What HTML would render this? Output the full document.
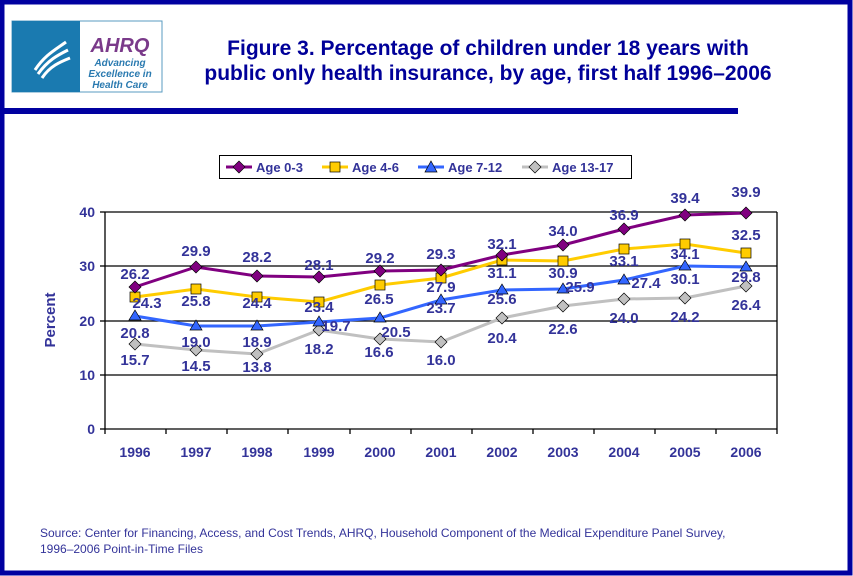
<!DOCTYPE html>
<html><head><style>body{margin:0}svg{display:block}text{font-family:"Liberation Sans",Arial,sans-serif}</style></head><body>
<svg width="853" height="576" xmlns="http://www.w3.org/2000/svg">
<rect width="853" height="576" fill="#fff"/>
<rect x="2" y="2" width="848" height="571" fill="none" stroke="#0000a0" stroke-width="5"/>
<rect x="0" y="108" width="738" height="6" fill="#0000a0"/>
<rect x="12" y="21" width="150" height="71" fill="#fff" stroke="#5a9bc0"/>
<rect x="12" y="21" width="68" height="71" fill="#1a7ab0"/>
<path d="M35 70 C45 55 55 50 66 42 M38 74 C48 60 58 55 68 50 M42 78 C50 66 60 62 70 58" stroke="#fff" stroke-width="3" fill="none"/>
<text x="120" y="52" font-size="20" font-weight="bold" font-style="italic" fill="#7a3a8a" text-anchor="middle">AHRQ</text>
<text x="120" y="66" font-size="10" font-style="italic" font-weight="bold" fill="#2a7ab0" text-anchor="middle">Advancing</text>
<text x="120" y="77" font-size="10" font-style="italic" font-weight="bold" fill="#2a7ab0" text-anchor="middle">Excellence in</text>
<text x="120" y="88" font-size="10" font-style="italic" font-weight="bold" fill="#2a7ab0" text-anchor="middle">Health Care</text>
<text x="488" y="55" font-size="21" font-weight="bold" fill="#000099" text-anchor="middle">Figure 3. Percentage of children under 18 years with</text>
<text x="488" y="80" font-size="21" font-weight="bold" fill="#000099" text-anchor="middle">public only health insurance, by age, first half 1996–2006</text>
<rect x="219.5" y="155.5" width="412" height="23" fill="#fff" stroke="#000"/>
<g font-size="13" font-weight="bold" fill="#333399">
<line x1="226" y1="167" x2="252" y2="167" stroke="#800080" stroke-width="3"/><path d="M239 161 L245 167 L239 173 L233 167Z" fill="#800080" stroke="#000" stroke-width=".7"/><text x="256" y="172">Age 0-3</text>
<line x1="322" y1="167" x2="348" y2="167" stroke="#ffcc00" stroke-width="3"/><rect x="330" y="162" width="10" height="10" fill="#ffcc00" stroke="#000" stroke-width=".7"/><text x="352" y="172">Age 4-6</text>
<line x1="418" y1="167" x2="444" y2="167" stroke="#3366ff" stroke-width="3"/><path d="M431 161 L437 172 L425 172Z" fill="#3366ff" stroke="#000" stroke-width=".7"/><text x="448" y="172">Age 7-12</text>
<line x1="522" y1="167" x2="548" y2="167" stroke="#c0c0c0" stroke-width="3"/><path d="M535 161 L541 167 L535 173 L529 167Z" fill="#c0c0c0" stroke="#000" stroke-width=".7"/><text x="552" y="172">Age 13-17</text>
</g>
<g stroke="#000" stroke-width="1.3">
<line x1="105" y1="212" x2="777" y2="212"/><line x1="105" y1="266" x2="777" y2="266"/>
<line x1="105" y1="321" x2="777" y2="321"/><line x1="105" y1="375" x2="777" y2="375"/>
<line x1="105" y1="429" x2="777" y2="429"/><line x1="105" y1="212" x2="105" y2="429"/>
<line x1="777" y1="212" x2="777" y2="429"/>
<line x1="100" y1="212" x2="105" y2="212"/><line x1="100" y1="266" x2="105" y2="266"/><line x1="100" y1="321" x2="105" y2="321"/><line x1="100" y1="375" x2="105" y2="375"/><line x1="100" y1="429" x2="105" y2="429"/>
<path d="M105 429v5M166 429v5M227 429v5M288 429v5M350 429v5M411 429v5M472 429v5M533 429v5M594 429v5M655 429v5M716 429v5M777 429v5"/>
</g>
<g font-size="14" font-weight="bold" fill="#333399" text-anchor="end">
<text x="95" y="217">40</text><text x="95" y="271">30</text><text x="95" y="326">20</text><text x="95" y="380">10</text><text x="95" y="434">0</text>
</g>
<text transform="translate(55,320) rotate(-90)" font-size="15" font-weight="bold" fill="#333399" text-anchor="middle">Percent</text>
<g font-size="14" font-weight="bold" fill="#333399" text-anchor="middle">
<text x="135" y="457">1996</text><text x="196" y="457">1997</text><text x="257" y="457">1998</text><text x="319" y="457">1999</text><text x="380" y="457">2000</text><text x="441" y="457">2001</text><text x="502" y="457">2002</text><text x="563" y="457">2003</text><text x="624" y="457">2004</text><text x="685" y="457">2005</text><text x="746" y="457">2006</text>
</g>
<polyline fill="none" stroke="#c0c0c0" stroke-width="3" points="135,344 196,350 257,354 319,330 380,339 441,342 502,318 563,306 624,299 685,298 746,286"/>
<polyline fill="none" stroke="#3366ff" stroke-width="3" points="135,316 196,326 257,326 319,322 380,318 441,300 502,290 563,289 624,280 685,266 746,267"/>
<polyline fill="none" stroke="#ffcc00" stroke-width="3" points="135,297 196,289 257,297 319,302 380,285 441,278 502,260 563,261 624,249 685,244 746,253"/>
<polyline fill="none" stroke="#800080" stroke-width="3" points="135,287 196,267 257,276 319,277 380,271 441,270 502,255 563,245 624,229 685,215 746,213"/>
<g fill="#c0c0c0" stroke="#000" stroke-width=".7">
<path d="M135 338l6 6-6 6-6-6z"/><path d="M196 344l6 6-6 6-6-6z"/><path d="M257 348l6 6-6 6-6-6z"/><path d="M319 324l6 6-6 6-6-6z"/><path d="M380 333l6 6-6 6-6-6z"/><path d="M441 336l6 6-6 6-6-6z"/><path d="M502 312l6 6-6 6-6-6z"/><path d="M563 300l6 6-6 6-6-6z"/><path d="M624 293l6 6-6 6-6-6z"/><path d="M685 292l6 6-6 6-6-6z"/><path d="M746 280l6 6-6 6-6-6z"/>
</g>
<g fill="#3366ff" stroke="#000" stroke-width=".7">
<path d="M135 310l6 10h-12z"/><path d="M196 320l6 10h-12z"/><path d="M257 320l6 10h-12z"/><path d="M319 316l6 10h-12z"/><path d="M380 312l6 10h-12z"/><path d="M441 294l6 10h-12z"/><path d="M502 284l6 10h-12z"/><path d="M563 283l6 10h-12z"/><path d="M624 274l6 10h-12z"/><path d="M685 260l6 10h-12z"/><path d="M746 261l6 10h-12z"/>
</g>
<g fill="#ffcc00" stroke="#000" stroke-width=".7">
<rect x="130" y="292" width="10" height="10"/><rect x="191" y="284" width="10" height="10"/><rect x="252" y="292" width="10" height="10"/><rect x="314" y="297" width="10" height="10"/><rect x="375" y="280" width="10" height="10"/><rect x="436" y="273" width="10" height="10"/><rect x="497" y="255" width="10" height="10"/><rect x="558" y="256" width="10" height="10"/><rect x="619" y="244" width="10" height="10"/><rect x="680" y="239" width="10" height="10"/><rect x="741" y="248" width="10" height="10"/>
</g>
<g fill="#800080" stroke="#000" stroke-width=".7">
<path d="M135 281l6 6-6 6-6-6z"/><path d="M196 261l6 6-6 6-6-6z"/><path d="M257 270l6 6-6 6-6-6z"/><path d="M319 271l6 6-6 6-6-6z"/><path d="M380 265l6 6-6 6-6-6z"/><path d="M441 264l6 6-6 6-6-6z"/><path d="M502 249l6 6-6 6-6-6z"/><path d="M563 239l6 6-6 6-6-6z"/><path d="M624 223l6 6-6 6-6-6z"/><path d="M685 209l6 6-6 6-6-6z"/><path d="M746 207l6 6-6 6-6-6z"/>
</g>
<g font-size="15" font-weight="bold" fill="#333399" text-anchor="middle">
<text x="135" y="279">26.2</text><text x="196" y="256">29.9</text><text x="257" y="262">28.2</text><text x="319" y="270">28.1</text><text x="380" y="263">29.2</text><text x="441" y="259">29.3</text><text x="502" y="249">32.1</text><text x="563" y="236">34.0</text><text x="624" y="220">36.9</text><text x="685" y="203">39.4</text><text x="746" y="197">39.9</text>
<text x="147" y="308">24.3</text><text x="196" y="306">25.8</text><text x="257" y="308">24.4</text><text x="319" y="312">23.4</text><text x="379" y="304">26.5</text><text x="441" y="292">27.9</text><text x="502" y="278">31.1</text><text x="563" y="278">30.9</text><text x="624" y="266">33.1</text><text x="685" y="259">34.1</text><text x="746" y="240">32.5</text>
<text x="135" y="338">20.8</text><text x="196" y="347">19.0</text><text x="257" y="347">18.9</text><text x="336" y="331">19.7</text><text x="396" y="337">20.5</text><text x="441" y="313">23.7</text><text x="502" y="304">25.6</text><text x="580" y="292">25.9</text><text x="646" y="288">27.4</text><text x="685" y="284">30.1</text><text x="746" y="282">29.8</text>
<text x="135" y="365">15.7</text><text x="196" y="371">14.5</text><text x="257" y="372">13.8</text><text x="319" y="354">18.2</text><text x="379" y="357">16.6</text><text x="441" y="365">16.0</text><text x="502" y="343">20.4</text><text x="563" y="334">22.6</text><text x="624" y="323">24.0</text><text x="685" y="322">24.2</text><text x="746" y="310">26.4</text>
</g>
<g font-size="12" fill="#333399">
<text x="40" y="537">Source: Center for Financing, Access, and Cost Trends, AHRQ, Household Component of the Medical Expenditure Panel Survey,</text>
<text x="40" y="553">1996–2006 Point-in-Time Files</text>
</g>
</svg>
</body></html>
